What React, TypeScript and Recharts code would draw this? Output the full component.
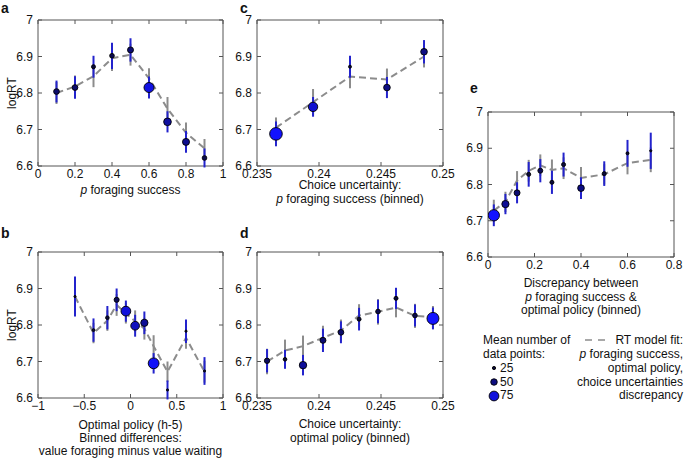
import React from 'react';
import { ComposedChart, Line, Scatter, XAxis, YAxis, ErrorBar, ReferenceArea } from 'recharts';

// ---------- shared ticks ----------
const yTicks = [6.6, 6.7, 6.8, 6.9, 7];
const aTicks = [0, 0.2, 0.4, 0.6, 0.8, 1];
const bTicks = [-1, -0.5, 0, 0.5, 1];
const cdTicks = [0.235, 0.24, 0.245, 0.25];
const eTicks = [0, 0.2, 0.4, 0.6, 0.8];

// ---------- panel a: p foraging success ----------
const aX = [0.1, 0.2, 0.3, 0.4, 0.5, 0.6, 0.7, 0.8, 0.9];
const aObs = [6.804, 6.815, 6.872, 6.902, 6.918, 6.815, 6.721, 6.666, 6.622];
const aObsErr = [0.03, 0.031, 0.03, 0.036, 0.032, 0.03, 0.029, 0.03, 0.026];
const aN = [44, 44, 31, 36, 46, 77, 59, 54, 36];
const aFit = [6.8, 6.818, 6.846, 6.895, 6.905, 6.84, 6.757, 6.691, 6.648];
const aFitErr = [0.03, 0.03, 0.03, 0.035, 0.03, 0.028, 0.032, 0.028, 0.026];

// ---------- panel b: optimal policy ----------
const bX = [-0.6, -0.4, -0.25, -0.15, -0.05, 0.05, 0.15, 0.25, 0.4, 0.6, 0.8];
const bObs = [6.878, 6.786, 6.82, 6.869, 6.838, 6.798, 6.806, 6.695, 6.622, 6.783, 6.674];
const bObsErr = [0.055, 0.032, 0.032, 0.031, 0.029, 0.03, 0.031, 0.028, 0.026, 0.032, 0.038];
const bN = [8, 22, 28, 39, 75, 67, 56, 83, 17, 14, 14];
const bFit = [6.878, 6.778, 6.812, 6.855, 6.832, 6.81, 6.79, 6.742, 6.672, 6.765, 6.672];
const bFitErr = [0.028, 0.028, 0.028, 0.03, 0.028, 0.03, 0.03, 0.03, 0.028, 0.03, 0.03];

// ---------- panel c: choice uncertainty, p foraging success ----------
const cX = [0.23653, 0.23952, 0.2425, 0.24548, 0.24847];
const cObs = [6.688, 6.762, 6.872, 6.815, 6.913];
const cObsErr = [0.034, 0.027, 0.03, 0.029, 0.032];
const cN = [97, 72, 23, 51, 51];
const cFit = [6.705, 6.775, 6.845, 6.837, 6.9];
const cFitErr = [0.028, 0.036, 0.032, 0.03, 0.03];

// ---------- panel d: choice uncertainty, optimal policy ----------
const dX = [0.23581, 0.23726, 0.23871, 0.24032, 0.24177, 0.24323, 0.24476, 0.24621, 0.24774, 0.24919];
const dObs = [6.702, 6.706, 6.69, 6.758, 6.78, 6.816, 6.837, 6.873, 6.826, 6.818];
const dObsErr = [0.032, 0.026, 0.028, 0.032, 0.03, 0.031, 0.032, 0.029, 0.03, 0.03];
const dN = [41, 28, 57, 46, 44, 31, 36, 31, 36, 92];
const dFit = [6.7, 6.73, 6.742, 6.765, 6.785, 6.826, 6.836, 6.848, 6.825, 6.822];
const dFitErr = [0.035, 0.03, 0.029, 0.033, 0.03, 0.031, 0.035, 0.027, 0.033, 0.03];

// ---------- panel e: discrepancy ----------
const eX = [0.025, 0.075, 0.125, 0.175, 0.225, 0.275, 0.325, 0.4, 0.5, 0.6, 0.7];
const eObs = [6.715, 6.746, 6.777, 6.828, 6.838, 6.806, 6.855, 6.79, 6.83, 6.886, 6.893];
const eObsErr = [0.03, 0.028, 0.029, 0.034, 0.032, 0.032, 0.033, 0.03, 0.034, 0.037, 0.05];
const eN = [87, 56, 46, 31, 38, 31, 31, 51, 31, 23, 15];
const eFit = [6.728, 6.752, 6.811, 6.838, 6.853, 6.84, 6.845, 6.818, 6.828, 6.859, 6.868];
const eFitErr = [0.03, 0.028, 0.026, 0.03, 0.03, 0.029, 0.03, 0.03, 0.028, 0.031, 0.034];

const build = (xs: number[], obs: number[], oe: number[], n: number[], fit: number[], fe: number[]) =>
  xs.map((x, i) => ({ x, obs: obs[i], obsErr: oe[i], n: n[i], fit: fit[i], fitErr: fe[i] }));

const rowsA = build(aX, aObs, aObsErr, aN, aFit, aFitErr);
const rowsB = build(bX, bObs, bObsErr, bN, bFit, bFitErr);
const rowsC = build(cX, cObs, cObsErr, cN, cFit, cFitErr);
const rowsD = build(dX, dObs, dObsErr, dN, dFit, dFitErr);
const rowsE = build(eX, eObs, eObsErr, eN, eFit, eFitErr);

const BLUE_ERR = '#2323cc';
const GRAY = '#8c8c8c';
const AXIS = '#555';
const FONT = '"Liberation Sans", Arial, Helvetica, sans-serif';

const sizeR = (n: number) => Math.max(1.1, n * 0.065);
const sizeFill = (n: number) => {
  const t = Math.min(1, Math.max(0, (n - 30) / 55));
  const rg = Math.round(10 + 8 * t);
  const b = Math.round(55 + 200 * t);
  return `rgb(${rg},${rg},${b})`;
};

const DotShape = (p: any) => {
  const n = p.payload ? p.payload.n : 30;
  if (p.cx == null || p.cy == null) return <g />;
  return <circle cx={p.cx} cy={p.cy} r={sizeR(n)} fill={sizeFill(n)} stroke="#000" strokeWidth={0.9} />;
};

const fmt = (v: number) => (v < 0 ? '\u2212' + String(Math.abs(v)) : String(v));

type PanelProps = {
  rows: any[];
  left: number;
  top: number;
  w: number;
  h: number;
  xDomain: [number, number];
  xTicks: number[];
};

const ML = 40, MT = 12, MR = 16, XH = 30, TICK = 4;

function Panel({ rows, left, top, w, h, xDomain, xTicks }: PanelProps) {
  const plotTop = MT;
  const plotBottom = MT + h;
  const plotLeft = ML;
  const plotRight = ML + w;

  const xTick = (p: any) => {
    const x = p.x;
    return (
      <g>
        <line x1={x} x2={x} y1={plotBottom} y2={plotBottom - TICK} stroke={AXIS} strokeWidth={1} />
        <line x1={x} x2={x} y1={plotTop} y2={plotTop + TICK} stroke={AXIS} strokeWidth={1} />
        <text x={x} y={plotBottom + 11.5} textAnchor="middle" fontSize={12} fill="#111">
          {fmt(p.payload.value)}
        </text>
      </g>
    );
  };

  const yTick = (p: any) => {
    const y = p.y;
    return (
      <g>
        <line x1={plotLeft} x2={plotLeft + TICK} y1={y} y2={y} stroke={AXIS} strokeWidth={1} />
        <line x1={plotRight} x2={plotRight - TICK} y1={y} y2={y} stroke={AXIS} strokeWidth={1} />
        <text x={plotLeft - 5} y={y + 4.2} textAnchor="end" fontSize={12} fill="#111">
          {fmt(p.payload.value)}
        </text>
      </g>
    );
  };

  return (
    <div style={{ position: 'absolute', left: left - ML, top: top - MT }}>
      <ComposedChart
        width={ML + w + MR}
        height={MT + h + XH}
        data={rows}
        margin={{ top: MT, right: MR, bottom: 0, left: 0 }}
      >
        <XAxis
          xAxisId="b"
          type="number"
          dataKey="x"
          domain={xDomain}
          ticks={xTicks}
          interval={0}
          allowDataOverflow
          orientation="bottom"
          height={XH}
          axisLine={false}
          tickLine={false}
          tick={xTick}
        />
        <YAxis
          yAxisId="l"
          type="number"
          domain={[6.6, 7]}
          ticks={yTicks}
          interval={0}
          allowDataOverflow
          width={ML}
          axisLine={false}
          tickLine={false}
          tick={yTick}
        />
        <Line
          xAxisId="b"
          yAxisId="l"
          dataKey="fit"
          stroke={GRAY}
          strokeWidth={2}
          strokeDasharray="7 4"
          dot={false}
          activeDot={false}
          isAnimationActive={false}
        >
          <ErrorBar dataKey="fitErr" direction="y" width={0} stroke={GRAY} strokeWidth={2} />
        </Line>
        <Scatter
          xAxisId="b"
          yAxisId="l"
          dataKey="obs"
          shape={DotShape}
          isAnimationActive={false}
        >
          <ErrorBar dataKey="obsErr" direction="y" width={0} stroke={BLUE_ERR} strokeWidth={2} />
        </Scatter>
        <ReferenceArea
          xAxisId="b"
          yAxisId="l"
          x1={xDomain[0]}
          x2={xDomain[1]}
          y1={6.6}
          y2={7}
          fill="none"
          fillOpacity={0}
          stroke={AXIS}
          strokeWidth={1}
          ifOverflow="visible"
        />
      </ComposedChart>
    </div>
  );
}

type TP = { x: number; y: number; fs?: number; lh?: number; align?: 'left' | 'center' | 'right'; bold?: boolean; color?: string; children: React.ReactNode };
// y is the text baseline
const T = ({ x, y, fs = 12, lh, align = 'center', bold = false, color = '#111', children }: TP) => {
  const L = lh ?? fs;
  const tx = align === 'center' ? 'translateX(-50%)' : align === 'right' ? 'translateX(-100%)' : 'none';
  return (
    <div
      style={{
        position: 'absolute',
        left: x,
        top: y - (L / 2 + 0.3465 * fs),
        fontSize: fs,
        lineHeight: `${L}px`,
        whiteSpace: 'nowrap',
        fontWeight: bold ? 'bold' : 'normal',
        color,
        transform: tx,
      }}
    >
      {children}
    </div>
  );
};

const I = ({ children }: { children: React.ReactNode }) => <span style={{ fontStyle: 'italic' }}>{children}</span>;

const YLabel = ({ x, y }: { x: number; y: number }) => (
  <div
    style={{
      position: 'absolute',
      left: x,
      top: y,
      fontSize: 12,
      lineHeight: '12px',
      whiteSpace: 'nowrap',
      color: '#111',
      transform: 'translate(-50%,-50%) rotate(-90deg)',
    }}
  >
    logRT
  </div>
);

const legendSizes = [25, 50, 75];

export default function App() {
  return (
    <div
      style={{
        position: 'absolute',
        left: 0,
        top: 0,
        width: 685,
        height: 460,
        background: '#fff',
        fontFamily: FONT,
        overflow: 'hidden',
      }}
    >
      <Panel rows={rowsA} left={38} top={20} w={185} h={146} xDomain={[0, 1]} xTicks={aTicks} />
      <Panel rows={rowsB} left={38} top={252} w={185} h={146} xDomain={[-1, 1]} xTicks={bTicks} />
      <Panel rows={rowsC} left={257} top={20} w={186} h={146} xDomain={[0.235, 0.25]} xTicks={cdTicks} />
      <Panel rows={rowsD} left={257} top={252} w={186} h={146} xDomain={[0.235, 0.25]} xTicks={cdTicks} />
      <Panel rows={rowsE} left={488} top={112} w={186} h={145} xDomain={[0, 0.8]} xTicks={eTicks} />

      {/* panel letters */}
      <T x={1} y={12.5} fs={14} lh={10} align="left" bold>a</T>
      <T x={240} y={12.5} fs={14} lh={10} align="left" bold>c</T>
      <T x={1} y={238} fs={14} lh={10} align="left" bold>b</T>
      <T x={240} y={238} fs={14} lh={10} align="left" bold>d</T>
      <T x={470} y={93} fs={14} lh={10} align="left" bold>e</T>

      {/* y labels */}
      <YLabel x={12} y={93} />
      <YLabel x={12} y={325} />

      {/* x labels */}
      <T x={130.5} y={194}><I>p</I> foraging success</T>
      <T x={350} y={189.5}>Choice uncertainty:</T>
      <T x={350} y={203}><I>p</I> foraging success (binned)</T>
      <T x={130.5} y={429}>Optimal policy (h-5)</T>
      <T x={130.5} y={442}>Binned differences:</T>
      <T x={130.5} y={455}>value foraging minus value waiting</T>
      <T x={350} y={428}>Choice uncertainty:</T>
      <T x={350} y={442}>optimal policy (binned)</T>
      <T x={581} y={287}>Discrepancy between</T>
      <T x={581} y={301}><I>p</I> foraging success &amp;</T>
      <T x={581} y={314}>optimal policy (binned)</T>

      {/* size legend */}
      <T x={483} y={344} align="left">Mean number of</T>
      <T x={483} y={358} align="left">data points:</T>
      <svg width={20} height={50} style={{ position: 'absolute', left: 485, top: 360 }}>
        {legendSizes.map((n, i) => (
          <circle key={n} cx={9} cy={8 + i * 14} r={sizeR(n)} fill={sizeFill(n)} stroke="#000" strokeWidth={0.9} />
        ))}
      </svg>
      {legendSizes.map((n, i) => (
        <T key={n} x={500} y={372 + i * 13.7} align="left">{String(n)}</T>
      ))}

      {/* model-fit legend */}
      <svg width={24} height={6} style={{ position: 'absolute', left: 585, top: 337 }}>
        <line x1={0} y1={3} x2={24} y2={3} stroke={GRAY} strokeWidth={1.6} strokeDasharray="7 6" />
      </svg>
      <T x={683} y={344} align="right">RT model fit:</T>
      <T x={683} y={358} align="right"><I>p</I> foraging success,</T>
      <T x={683} y={372} align="right">optimal policy,</T>
      <T x={683} y={386} align="right">choice uncertainties</T>
      <T x={683} y={399} align="right">discrepancy</T>
    </div>
  );
}
